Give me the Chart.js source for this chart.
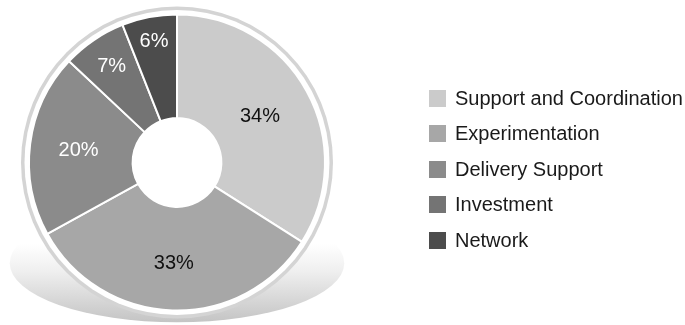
<!DOCTYPE html>
<html>
<head>
<meta charset="utf-8">
<script src="https://cdn.jsdelivr.net/npm/chart.js@4"></script>
<style>
  html, body { margin: 0; padding: 0; background: #ffffff; }
  #wrap { width: 685px; height: 325px; position: relative; }
</style>
</head>
<body>
<div id="wrap"><canvas id="chart" width="685" height="325"></canvas></div>
<script>
// Share of effort by activity area
const categories = ['Support and Coordination', 'Experimentation', 'Delivery Support', 'Investment', 'Network'];
const shares = [34, 33, 20, 7, 6];

const sliceColors = ['#cbcbcb', '#a7a7a7', '#8b8b8b', '#747474', '#4c4c4c'];
const labelColors = ['#111111', '#111111', '#ffffff', '#ffffff', '#ffffff'];
// radial placement of each percentage label, as a fraction of the outer radius
const labelRadius = [0.64, 0.685, 0.67, 0.785, 0.83];

const FONT = '"Liberation Sans", Arial, sans-serif';

// soft floor shadow under the disc plus the thin outer ring
const backdrop = {
  id: 'backdrop',
  beforeDatasetsDraw(chart) {
    const meta = chart.getDatasetMeta(0);
    const arc = meta.data[0];
    if (!arc) return;
    const { x, y, outerRadius } = arc.getProps(['x', 'y', 'outerRadius'], true);
    const ctx = chart.ctx;
    ctx.save();
    // shadow ellipse
    const ey = y + outerRadius * 0.68;
    const grad = ctx.createLinearGradient(0, y + outerRadius * 0.55, 0, y + outerRadius * 1.08);
    grad.addColorStop(0, 'rgba(255,255,255,1)');
    grad.addColorStop(0.35, '#efefef');
    grad.addColorStop(1, '#c4c4c4');
    ctx.beginPath();
    ctx.ellipse(x, ey, outerRadius * 1.13, outerRadius * 0.4, 0, 0, Math.PI * 2);
    ctx.fillStyle = grad;
    ctx.fill();
    // outer ring
    ctx.beginPath();
    ctx.arc(x, y, outerRadius + 8, 0, Math.PI * 2);
    ctx.fillStyle = '#d4d4d4';
    ctx.fill();
    ctx.beginPath();
    ctx.arc(x, y, outerRadius + 4.5, 0, Math.PI * 2);
    ctx.fillStyle = '#ffffff';
    ctx.fill();
    ctx.restore();
  }
};

// percentage labels on each slice
const sliceLabels = {
  id: 'sliceLabels',
  afterDatasetsDraw(chart) {
    const ctx = chart.ctx;
    const meta = chart.getDatasetMeta(0);
    const values = chart.data.datasets[0].data;
    ctx.save();
    ctx.font = '20px ' + FONT;
    ctx.textAlign = 'center';
    ctx.textBaseline = 'middle';
    meta.data.forEach((arc, i) => {
      const p = arc.getProps(['x', 'y', 'startAngle', 'endAngle', 'outerRadius'], true);
      const mid = (p.startAngle + p.endAngle) / 2;
      const r = p.outerRadius * labelRadius[i];
      ctx.fillStyle = labelColors[i];
      ctx.fillText(values[i] + '%', p.x + Math.cos(mid) * r, p.y + Math.sin(mid) * r);
    });
    ctx.restore();
  }
};

// legend column on the right
const sideLegend = {
  id: 'sideLegend',
  afterDraw(chart) {
    const ctx = chart.ctx;
    const ds = chart.data.datasets[0];
    const x0 = 429, y0 = 98, step = 35.6, box = 17;
    ctx.save();
    ctx.font = '20px ' + FONT;
    ctx.textAlign = 'left';
    ctx.textBaseline = 'middle';
    chart.data.labels.forEach((label, i) => {
      const cy = y0 + i * step;
      ctx.fillStyle = ds.backgroundColor[i];
      ctx.fillRect(x0, Math.round(cy - box / 2), box, box);
      ctx.fillStyle = '#1a1a1a';
      ctx.fillText(label, x0 + 26, cy + 1);
    });
    ctx.restore();
  }
};

new Chart(document.getElementById('chart'), {
  type: 'doughnut',
  data: {
    labels: categories,
    datasets: [{
      data: shares,
      backgroundColor: sliceColors,
      borderColor: '#ffffff',
      borderWidth: 2,
      borderAlign: 'center'
    }]
  },
  options: {
    responsive: false,
    animation: false,
    cutout: '30%',
    layout: { padding: { left: 28, right: 359, top: 13, bottom: 13 } },
    plugins: {
      legend: { display: false },
      tooltip: { enabled: false }
    }
  },
  plugins: [backdrop, sliceLabels, sideLegend]
});
</script>
</body>
</html>
